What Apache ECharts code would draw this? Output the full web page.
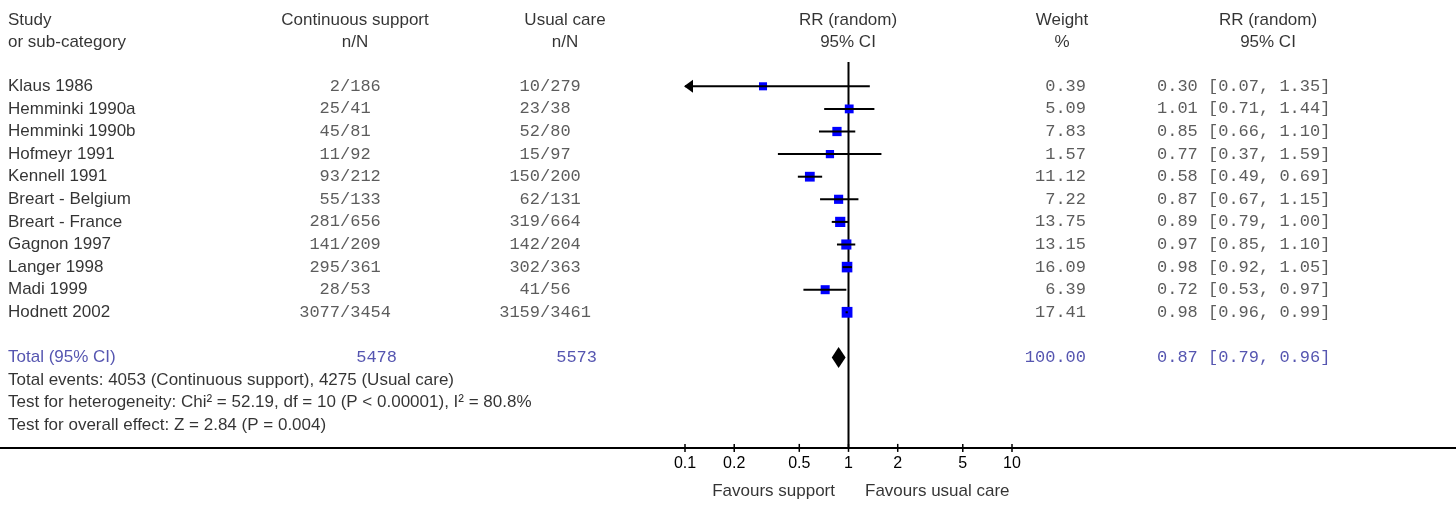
<!DOCTYPE html>
<html>
<head>
<meta charset="utf-8">
<title>Continuous support vs usual care - forest plot</title>
<script src="https://cdn.jsdelivr.net/npm/echarts@6.0.0/dist/echarts.min.js"></script>
<style>
html, body { margin: 0; padding: 0; background: #fff; }
#forest { width: 1456px; height: 506px; }
</style>
</head>
<body>
<div id="forest"></div>
<script>
// study rows
var studies = ['Klaus 1986', 'Hemminki 1990a', 'Hemminki 1990b', 'Hofmeyr 1991', 'Kennell 1991',
  'Breart - Belgium', 'Breart - France', 'Gagnon 1997', 'Langer 1998', 'Madi 1999', 'Hodnett 2002'];
var supportEvents = [2, 25, 45, 11, 93, 55, 281, 141, 295, 28, 3077];
var supportTotal  = [186, 41, 81, 92, 212, 133, 656, 209, 361, 53, 3454];
var careEvents    = [10, 23, 52, 15, 150, 62, 319, 142, 302, 41, 3159];
var careTotal     = [279, 38, 80, 97, 200, 131, 664, 204, 363, 56, 3461];
var weights = [0.39, 5.09, 7.83, 1.57, 11.12, 7.22, 13.75, 13.15, 16.09, 6.39, 17.41];
var rr      = [0.30, 1.01, 0.85, 0.77, 0.58, 0.87, 0.89, 0.97, 0.98, 0.72, 0.98];
var rrLow   = [0.07, 0.71, 0.66, 0.37, 0.49, 0.67, 0.79, 0.85, 0.92, 0.53, 0.96];
var rrHigh  = [1.35, 1.44, 1.10, 1.59, 0.69, 1.15, 1.00, 1.10, 1.05, 0.97, 0.99];

// pooled result
var totalRR = 0.87, totalLow = 0.79, totalHigh = 0.96, totalWeight = 100.00;
var totalSupportN = 5478, totalCareN = 5573;

var tickValues = [0.1, 0.2, 0.5, 1, 2, 5, 10];
var tickLabels = ['0.1', '0.2', '0.5', '1', '2', '5', '10'];

var footnotes = [
  'Total events: 4053 (Continuous support), 4275 (Usual care)',
  'Test for heterogeneity: Chi\u00b2 = 52.19, df = 10 (P < 0.00001), I\u00b2 = 80.8%',
  'Test for overall effect: Z = 2.84 (P = 0.004)'
];

// layout
var ROW0 = 86.3, ROWH = 22.6;
var yMin = -3.5, yMax = 18.5, axisRow = 16, totalRow = 12;
var gridTop = ROW0 + yMin * ROWH;
var SANS = 'Liberation Sans, Arial, sans-serif';
var MONO = 'Liberation Mono, Courier New, monospace';
var BLUE = '#2b2b9c';

var log10 = function (v) { return Math.log(v) / Math.LN10; };
var tickLogs = tickValues.map(log10);

function txt(items, pos, font, color, size) {
  return {
    type: 'scatter', xAxisIndex: 0, yAxisIndex: 0, symbolSize: 0, silent: true,
    data: items.map(function (d) { return { value: [d[0], d[1]], t: d[2] }; }),
    label: {
      show: true, position: pos, distance: 0,
      formatter: function (p) { return p.data.t; },
      fontFamily: font, fontSize: size || 17, color: color
    }
  };
}

var series = [];

// headers
series.push(txt([[8, -2.93, 'Study'], [8, -1.93, 'or sub-category']], 'right', SANS, '#000'));
series.push(txt([
  [355, -2.93, 'Continuous support'], [355, -1.93, 'n/N'],
  [565, -2.93, 'Usual care'], [565, -1.93, 'n/N'],
  [848, -2.93, 'RR (random)'], [848, -1.93, '95% CI'],
  [1062, -2.93, 'Weight'], [1062, -1.93, '%'],
  [1268, -2.93, 'RR (random)'], [1268, -1.93, '95% CI']
], 'inside', SANS, '#000'));

// study columns
series.push(txt(studies.map(function (s, i) { return [8, i, s]; }), 'right', SANS, '#000'));
series.push(txt(supportEvents.map(function (v, i) { return [340, i, String(v)]; }), 'left', MONO, '#333'));
series.push(txt(supportTotal.map(function (v, i) { return [340, i, '/' + v]; }), 'right', MONO, '#333'));
series.push(txt(careEvents.map(function (v, i) { return [540, i, String(v)]; }), 'left', MONO, '#333'));
series.push(txt(careTotal.map(function (v, i) { return [540, i, '/' + v]; }), 'right', MONO, '#333'));
series.push(txt(weights.map(function (v, i) { return [1086, i, v.toFixed(2)]; }), 'left', MONO, '#333'));
series.push(txt(rr.map(function (v, i) {
  return [1157, i, v.toFixed(2) + ' [' + rrLow[i].toFixed(2) + ', ' + rrHigh[i].toFixed(2) + ']'];
}), 'right', MONO, '#333'));

// total row
series.push(txt([[8, totalRow, 'Total (95% CI)']], 'right', SANS, BLUE));
series.push(txt([
  [397, totalRow, String(totalSupportN)],
  [597, totalRow, String(totalCareN)],
  [1086, totalRow, totalWeight.toFixed(2)]
], 'left', MONO, BLUE));
series.push(txt([[1157, totalRow, totalRR.toFixed(2) + ' [' + totalLow.toFixed(2) + ', ' + totalHigh.toFixed(2) + ']']],
  'right', MONO, BLUE));

// footnotes
series.push(txt(footnotes.map(function (s, i) { return [8, totalRow + 1 + i, s]; }), 'right', SANS, '#000'));

// favours
series.push(txt([[835, 17.9, 'Favours support']], 'left', SANS, '#000'));
series.push(txt([[865, 17.9, 'Favours usual care']], 'right', SANS, '#000'));

// full width rule under the table
series.push({
  type: 'line', xAxisIndex: 0, yAxisIndex: 0, symbol: 'none', silent: true,
  data: [[0, axisRow], [1456, axisRow]],
  lineStyle: { color: '#000', width: 2 }
});

// line of no effect
series.push({
  type: 'line', xAxisIndex: 1, yAxisIndex: 1, symbol: 'none', silent: true, z: 1,
  data: [[0, -1.07], [0, axisRow]],
  lineStyle: { color: '#000', width: 2 }
});

// tick marks crossing the rule
series.push({
  type: 'custom', xAxisIndex: 1, yAxisIndex: 1, silent: true, clip: false, z: 3,
  data: tickLogs.map(function (t) { return [t, axisRow]; }),
  encode: { x: 0, y: 1 },
  renderItem: function (params, api) {
    var p = api.coord([api.value(0), api.value(1)]);
    return { type: 'line', shape: { x1: p[0], y1: p[1] - 4, x2: p[0], y2: p[1] + 4 },
      style: { stroke: '#000', lineWidth: 1.5 } };
  }
});

// study CIs and squares
series.push({
  type: 'custom', xAxisIndex: 1, yAxisIndex: 1, silent: true, clip: false, z: 3,
  data: rr.map(function (v, i) { return [log10(v), i, log10(rrLow[i]), log10(rrHigh[i]), weights[i]]; }),
  encode: { x: 0, y: 1 },
  renderItem: function (params, api) {
    var row = api.value(1);
    var lo = api.value(2), hi = api.value(3);
    var pL = api.coord([Math.max(lo, -1), row]);
    var pH = api.coord([Math.min(hi, 1), row]);
    var pC = api.coord([api.value(0), row]);
    var s = 8 + 0.16 * api.value(4);
    var kids = [
      { type: 'rect', shape: { x: pC[0] - s / 2, y: pC[1] - s / 2, width: s, height: s },
        style: { fill: '#0000ff' } },
      { type: 'line', shape: { x1: pL[0], y1: pL[1], x2: pH[0], y2: pH[1] },
        style: { stroke: '#000', lineWidth: 2 } }
    ];
    if (lo < -1) {
      kids.push({ type: 'polygon',
        shape: { points: [[pL[0] - 1, pL[1]], [pL[0] + 8, pL[1] - 6.5], [pL[0] + 8, pL[1] + 6.5]] },
        style: { fill: '#000' } });
    }
    return { type: 'group', children: kids };
  }
});

// pooled diamond
series.push({
  type: 'custom', xAxisIndex: 1, yAxisIndex: 1, silent: true, clip: false, z: 3,
  data: [[log10(totalRR), totalRow, log10(totalLow), log10(totalHigh)]],
  encode: { x: 0, y: 1 },
  renderItem: function (params, api) {
    var row = api.value(1);
    var c = api.coord([api.value(0), row]);
    var l = api.coord([api.value(2), row]);
    var h = api.coord([api.value(3), row]);
    return { type: 'polygon',
      shape: { points: [[l[0], l[1]], [c[0], c[1] - 10.5], [h[0], h[1]], [c[0], c[1] + 10.5]] },
      style: { fill: '#000' } };
  }
});

function tickLabel(v) {
  var best = 0;
  tickLogs.forEach(function (t, i) { if (Math.abs(t - v) < Math.abs(tickLogs[best] - v)) best = i; });
  return tickLabels[best];
}

var chart = echarts.init(document.getElementById('forest'));
chart.setOption({
  animation: false,
  backgroundColor: '#fff',
  grid: [
    { left: 0, width: 1456, top: gridTop, height: (yMax - yMin) * ROWH },
    { left: 685, width: 327, top: gridTop, height: (axisRow - yMin) * ROWH }
  ],
  xAxis: [
    { gridIndex: 0, type: 'value', min: 0, max: 1456, show: false },
    { gridIndex: 1, type: 'value', min: -1, max: 1, position: 'bottom',
      axisLine: { show: false }, splitLine: { show: false }, axisTick: { show: false },
      axisLabel: { show: true, customValues: tickLogs, formatter: tickLabel, margin: 8,
        fontFamily: SANS, fontSize: 16, color: '#000' } }
  ],
  yAxis: [
    { gridIndex: 0, type: 'value', min: yMin, max: yMax, inverse: true, show: false },
    { gridIndex: 1, type: 'value', min: yMin, max: axisRow, inverse: true, show: false }
  ],
  series: series
});
</script>
</body>
</html>
